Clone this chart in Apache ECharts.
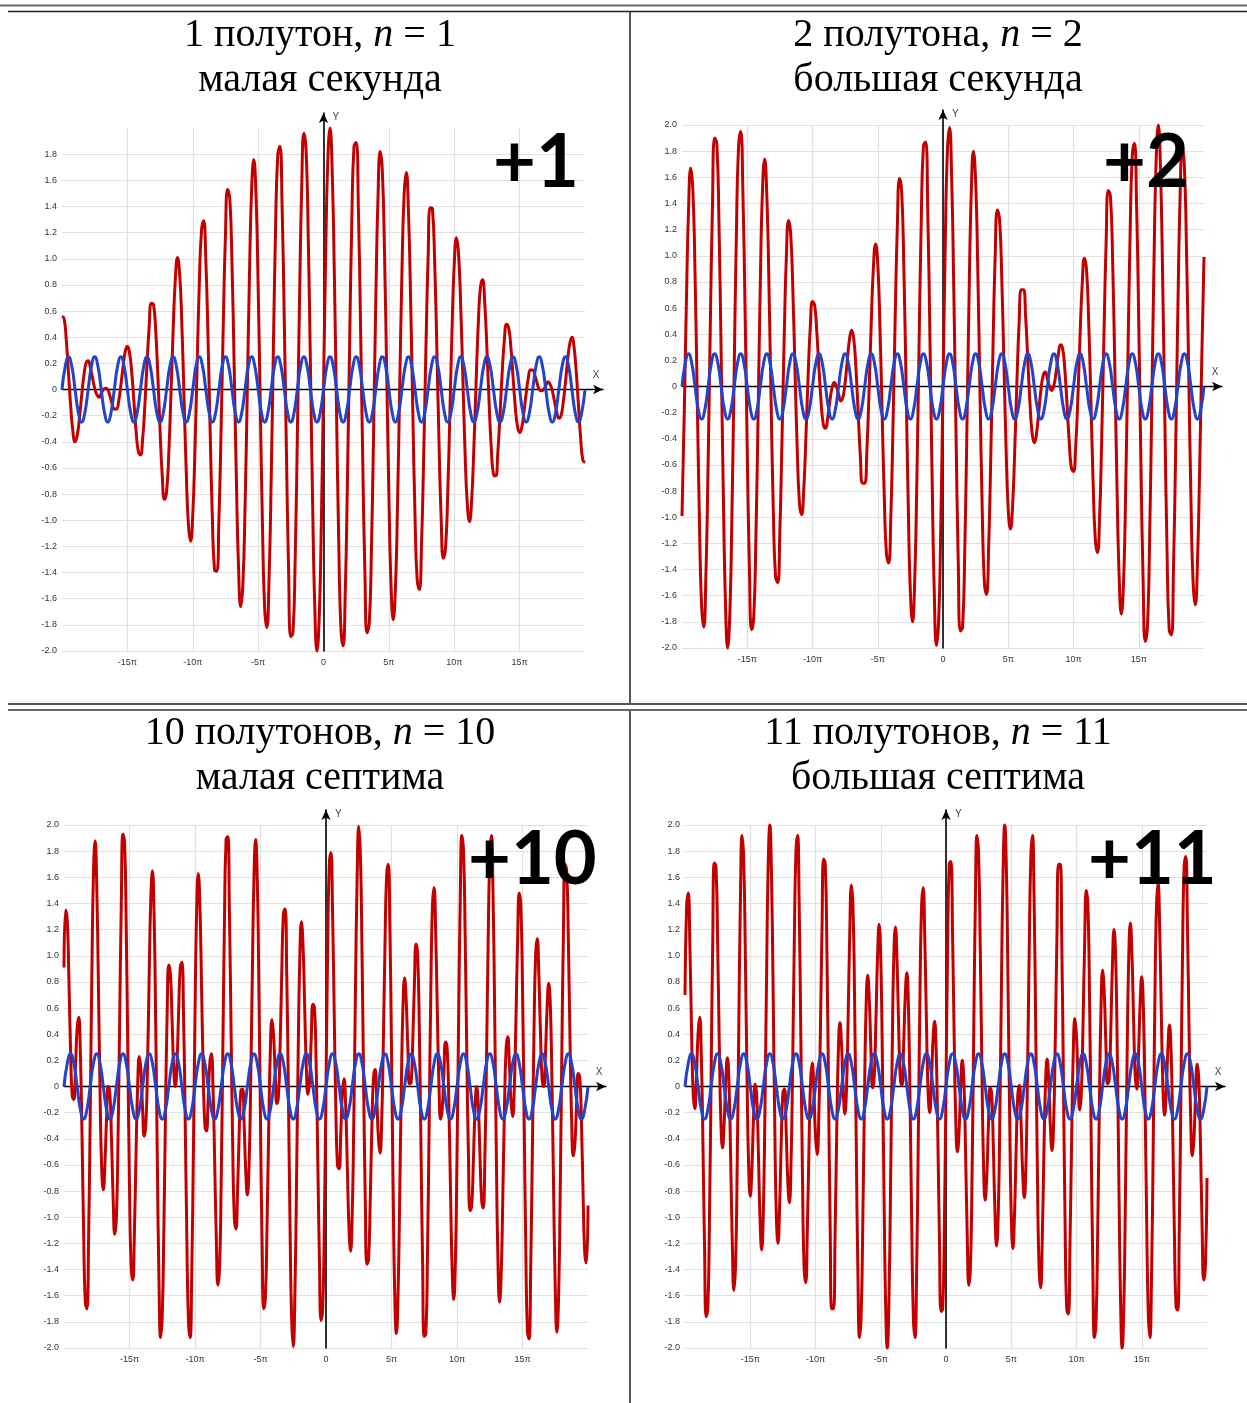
<!DOCTYPE html>
<html><head><meta charset="utf-8">
<script src="https://cdn.jsdelivr.net/npm/echarts@6/dist/echarts.min.js"></script>
<style>html,body{margin:0;padding:0;background:#fff}#c{width:1247px;height:1403px}</style>
</head><body><div id="c"></div>
<script>
// x runs from -20π to 20π (axis units = multiples of π), samples evenly spaced
const redSemitone1 = [
0.56,0.54,0.37,0.12,-0.13,-0.32,-0.40,-0.35,-0.22,-0.05,0.10,0.20,
0.22,0.17,0.09,0.01,-0.04,-0.06,-0.03,0.00,0.01,0.00,-0.05,-0.11,
-0.15,-0.15,-0.09,0.03,0.17,0.29,0.33,0.28,0.13,-0.09,-0.32,-0.47,
-0.50,-0.38,-0.13,0.19,0.48,0.66,0.65,0.45,0.10,-0.31,-0.66,-0.84,
-0.78,-0.49,-0.04,0.45,0.84,1.01,0.88,0.50,-0.06,-0.62,-1.03,-1.16,
-0.96,-0.47,0.18,0.80,1.21,1.29,0.99,0.40,-0.33,-0.98,-1.38,-1.39,
-1.00,-0.31,0.49,1.17,1.53,1.46,0.97,0.18,-0.67,-1.35,-1.66,-1.49,
-0.90,-0.04,0.85,1.52,1.76,1.50,0.80,-0.13,-1.04,-1.67,-1.82,-1.46,
-0.68,0.31,1.22,1.79,1.86,1.40,0.53,-0.49,-1.39,-1.89,-1.86,-1.30,
-0.36,0.68,1.54,1.96,1.83,1.17,0.19,-0.86,-1.66,-2.00,-1.76,-1.03,
0,
1.03,1.76,2.00,1.66,0.86,-0.19,-1.17,-1.83,-1.96,-1.54,-0.68,0.36,
1.30,1.86,1.89,1.39,0.49,-0.53,-1.40,-1.86,-1.79,-1.22,-0.31,0.68,
1.46,1.82,1.67,1.04,0.13,-0.80,-1.50,-1.76,-1.52,-0.85,0.04,0.90,
1.49,1.66,1.35,0.67,-0.18,-0.97,-1.46,-1.53,-1.17,-0.49,0.31,1.00,
1.39,1.38,0.98,0.33,-0.40,-0.99,-1.29,-1.21,-0.80,-0.18,0.47,0.96,
1.16,1.03,0.62,0.06,-0.50,-0.88,-1.01,-0.84,-0.45,0.04,0.49,0.78,
0.84,0.66,0.31,-0.10,-0.45,-0.65,-0.66,-0.48,-0.19,0.13,0.38,0.50,
0.47,0.32,0.09,-0.13,-0.28,-0.33,-0.29,-0.17,-0.03,0.09,0.15,0.15,
0.11,0.05,0.00,-0.01,0.00,0.03,0.06,0.04,-0.01,-0.09,-0.17,-0.22,
-0.20,-0.10,0.05,0.22,0.35,0.40,0.32,0.13,-0.12,-0.37,-0.54,-0.56
];
const redSemitone2 = [
-0.99,-0.23,0.63,1.34,1.67,1.50,0.86,-0.08,-1.01,-1.67,-1.84,-1.44,-0.60,
0.45,1.37,1.90,1.86,1.25,0.25,-0.82,-1.66,-2.00,-1.73,-0.94,0.13,
1.16,1.83,1.95,1.48,0.58,-0.49,-1.39,-1.86,-1.76,-1.14,-0.20,0.78,
1.50,1.74,1.46,0.76,-0.14,-0.96,-1.45,-1.50,-1.10,-0.39,0.38,1.00,
1.27,1.16,0.72,0.10,-0.49,-0.89,-0.98,-0.78,-0.38,0.09,0.46,0.65,
0.62,0.41,0.13,-0.13,-0.29,-0.32,-0.24,-0.11,-0.01,0.03,0.00,-0.06,
-0.11,-0.08,0.03,0.20,0.36,0.43,0.36,0.13,-0.20,-0.53,-0.74,-0.74,
-0.49,-0.04,0.48,0.91,1.09,0.94,0.47,-0.19,-0.84,-1.28,-1.35,-1.00,
-0.31,0.51,1.22,1.59,1.49,0.91,0.04,-0.89,-1.57,-1.80,-1.48,-0.70,
0.32,1.26,1.84,1.87,1.33,0.37,-0.70,-1.58,-1.98,-1.79,-1.05,
0,
1.05,1.79,1.98,1.58,0.70,-0.37,-1.33,-1.87,-1.84,-1.26,-0.32,
0.70,1.48,1.80,1.57,0.89,-0.04,-0.91,-1.49,-1.59,-1.22,-0.51,0.31,
1.00,1.35,1.28,0.84,0.19,-0.47,-0.94,-1.09,-0.91,-0.48,0.04,0.49,
0.74,0.74,0.53,0.20,-0.13,-0.36,-0.43,-0.36,-0.20,-0.03,0.08,0.11,
0.06,0.00,-0.03,0.01,0.11,0.24,0.32,0.29,0.13,-0.13,-0.41,-0.62,
-0.65,-0.46,-0.09,0.38,0.78,0.98,0.89,0.49,-0.10,-0.72,-1.16,-1.27,
-1.00,-0.38,0.39,1.10,1.50,1.45,0.96,0.14,-0.76,-1.46,-1.74,-1.50,
-0.78,0.20,1.14,1.76,1.86,1.39,0.49,-0.58,-1.48,-1.95,-1.83,-1.16,
-0.13,0.94,1.73,2.00,1.66,0.82,-0.25,-1.25,-1.86,-1.90,-1.37,-0.45,
0.60,1.44,1.84,1.67,1.01,0.08,-0.86,-1.50,-1.67,-1.34,-0.63,0.23,
0.99
];
const redSemitone10 = [
0.91,1.35,1.27,0.82,0.28,-0.07,-0.10,0.14,0.44,0.53,0.25,-0.37,-1.12,-1.65,-1.70,-1.18,
-0.23,0.84,1.63,1.88,1.54,0.79,-0.03,-0.62,-0.79,-0.59,-0.24,0.00,-0.05,-0.40,-0.85,-1.13,
-1.00,-0.40,0.51,1.40,1.93,1.87,1.22,0.23,-0.76,-1.38,-1.48,-1.11,-0.51,0.01,0.23,0.12,
-0.17,-0.38,-0.29,0.16,0.83,1.43,1.65,1.32,0.49,-0.57,-1.48,-1.92,-1.75,-1.08,-0.19,0.56,
0.93,0.86,0.51,0.14,0.00,0.18,0.57,0.91,0.95,0.54,-0.24,-1.14,-1.79,-1.92,-1.44,-0.51,
0.54,1.34,1.63,1.38,0.77,0.12,-0.29,-0.34,-0.11,0.17,0.25,-0.01,-0.56,-1.16,-1.52,-1.38,
-0.72,0.28,1.27,1.89,1.91,1.35,0.45,-0.43,-1.00,-1.09,-0.79,-0.35,-0.03,-0.02,-0.29,-0.65,
-0.83,-0.61,0.01,0.85,1.59,1.89,1.60,0.78,-0.28,-1.22,-1.70,-1.61,-1.06,-0.33,0.27,0.51,
0.39,0.09,-0.13,-0.07,0.32,0.88,1.32,1.36,0.88,-0.01,-1.02,-1.77,-1.99,-1.59,-0.74,0.24,
0.98,1.26,1.07,0.60,0.14,-0.06,0.05,0.37,0.63,0.60,0.16,-0.57,-1.34,-1.79,-1.69,-1.03,
0,
1.03,1.69,1.79,1.34,0.57,-0.16,-0.60,-0.63,-0.37,-0.05,0.06,-0.14,-0.60,-1.07,-1.26,-0.98,
-0.24,0.74,1.59,1.99,1.77,1.02,0.01,-0.88,-1.36,-1.32,-0.88,-0.32,0.07,0.13,-0.09,-0.39,
-0.51,-0.27,0.33,1.06,1.61,1.70,1.22,0.28,-0.78,-1.60,-1.89,-1.59,-0.85,-0.01,0.61,0.83,
0.65,0.29,0.02,0.03,0.35,0.79,1.09,1.00,0.43,-0.45,-1.35,-1.91,-1.89,-1.27,-0.28,0.72,
1.38,1.52,1.16,0.56,0.01,-0.25,-0.17,0.11,0.34,0.29,-0.12,-0.77,-1.38,-1.63,-1.34,-0.54,
0.51,1.44,1.92,1.79,1.14,0.24,-0.54,-0.95,-0.91,-0.57,-0.18,0.00,-0.14,-0.51,-0.86,-0.93,
-0.56,0.19,1.08,1.75,1.92,1.48,0.57,-0.49,-1.32,-1.65,-1.43,-0.83,-0.16,0.29,0.38,0.17,
-0.12,-0.23,-0.01,0.51,1.11,1.48,1.38,0.76,-0.23,-1.22,-1.87,-1.93,-1.40,-0.51,0.40,1.00,
1.13,0.85,0.40,0.05,0.00,0.24,0.59,0.79,0.62,0.03,-0.79,-1.54,-1.88,-1.63,-0.84,0.23,
1.18,1.70,1.65,1.12,0.37,-0.25,-0.53,-0.44,-0.14,0.10,0.07,-0.28,-0.82,-1.27,-1.35,-0.91
];
const redSemitone11 = [
0.70,1.38,1.48,1.07,0.44,-0.05,-0.17,0.06,0.40,0.53,0.24,-0.44,-1.24,-1.76,-1.69,-1.01,
0.06,1.10,1.71,1.68,1.11,0.34,-0.27,-0.47,-0.28,0.05,0.22,0.01,-0.55,-1.20,-1.56,-1.36,
-0.60,0.48,1.45,1.92,1.73,1.00,0.09,-0.60,-0.84,-0.63,-0.24,0.02,-0.08,-0.51,-1.01,-1.25,
-0.97,-0.19,0.84,1.69,2.00,1.63,0.75,-0.26,-0.99,-1.20,-0.92,-0.42,-0.05,-0.02,-0.33,-0.72,
-0.89,-0.58,0.17,1.10,1.79,1.92,1.38,0.39,-0.67,-1.38,-1.50,-1.10,-0.47,0.04,0.18,-0.03,
-0.38,-0.52,-0.25,0.42,1.21,1.74,1.70,1.03,-0.03,-1.08,-1.70,-1.70,-1.14,-0.36,0.27,0.49,
0.31,-0.03,-0.21,-0.02,0.52,1.17,1.54,1.37,0.62,-0.45,-1.43,-1.92,-1.75,-1.03,-0.12,0.60,
0.85,0.66,0.27,-0.01,0.07,0.48,0.98,1.24,0.98,0.21,-0.81,-1.67,-2.00,-1.65,-0.78,0.24,
0.99,1.22,0.95,0.45,0.06,0.01,0.30,0.69,0.87,0.59,-0.14,-1.06,-1.77,-1.92,-1.41,-0.42,
0.65,1.37,1.52,1.13,0.50,-0.03,-0.20,0.00,0.35,0.50,0.26,-0.39,-1.18,-1.72,-1.70,-1.06,
0,
1.06,1.70,1.72,1.18,0.39,-0.26,-0.50,-0.35,0.00,0.20,0.03,-0.50,-1.13,-1.52,-1.37,-0.65,
0.42,1.41,1.92,1.77,1.06,0.14,-0.59,-0.87,-0.69,-0.30,-0.01,-0.06,-0.45,-0.95,-1.22,-0.99,
-0.24,0.78,1.65,2.00,1.67,0.81,-0.21,-0.98,-1.24,-0.98,-0.48,-0.07,0.01,-0.27,-0.66,-0.85,
-0.60,0.12,1.03,1.75,1.92,1.43,0.45,-0.62,-1.37,-1.54,-1.17,-0.52,0.02,0.21,0.03,-0.31,
-0.49,-0.27,0.36,1.14,1.70,1.70,1.08,0.03,-1.03,-1.70,-1.74,-1.21,-0.42,0.25,0.52,0.38,
0.03,-0.18,-0.04,0.47,1.10,1.50,1.38,0.67,-0.39,-1.38,-1.92,-1.79,-1.10,-0.17,0.58,0.89,
0.72,0.33,0.02,0.05,0.42,0.92,1.20,0.99,0.26,-0.75,-1.63,-2.00,-1.69,-0.84,0.19,0.97,
1.25,1.01,0.51,0.08,-0.02,0.24,0.63,0.84,0.60,-0.09,-1.00,-1.73,-1.92,-1.45,-0.48,0.60,
1.36,1.56,1.20,0.55,-0.01,-0.22,-0.05,0.28,0.47,0.27,-0.34,-1.11,-1.68,-1.71,-1.10,-0.06,
1.01,1.69,1.76,1.24,0.44,-0.24,-0.53,-0.40,-0.06,0.17,0.05,-0.44,-1.07,-1.48,-1.38,-0.70
];
const blueBaseTone = [
0,0.177,0.25,0.177,0,-0.177,-0.25,-0.177, 0,0.177,0.25,0.177,0,-0.177,-0.25,-0.177,
0,0.177,0.25,0.177,0,-0.177,-0.25,-0.177, 0,0.177,0.25,0.177,0,-0.177,-0.25,-0.177,
0,0.177,0.25,0.177,0,-0.177,-0.25,-0.177, 0,0.177,0.25,0.177,0,-0.177,-0.25,-0.177,
0,0.177,0.25,0.177,0,-0.177,-0.25,-0.177, 0,0.177,0.25,0.177,0,-0.177,-0.25,-0.177,
0,0.177,0.25,0.177,0,-0.177,-0.25,-0.177, 0,0.177,0.25,0.177,0,-0.177,-0.25,-0.177,
0,0.177,0.25,0.177,0,-0.177,-0.25,-0.177, 0,0.177,0.25,0.177,0,-0.177,-0.25,-0.177,
0,0.177,0.25,0.177,0,-0.177,-0.25,-0.177, 0,0.177,0.25,0.177,0,-0.177,-0.25,-0.177,
0,0.177,0.25,0.177,0,-0.177,-0.25,-0.177, 0,0.177,0.25,0.177,0,-0.177,-0.25,-0.177,
0,0.177,0.25,0.177,0,-0.177,-0.25,-0.177, 0,0.177,0.25,0.177,0,-0.177,-0.25,-0.177,
0,0.177,0.25,0.177,0,-0.177,-0.25,-0.177, 0,0.177,0.25,0.177,0,-0.177,-0.25,-0.177,
0
];
const semitoneCounts = [1, 2, 10, 11];
const titleLine1 = ['1 полутон', '2 полутона', '10 полутонов', '11 полутонов'];
const titleLine2 = ['малая секунда', 'большая секунда', 'малая септима', 'большая септима'];
const bigLabels = ['+1', '+2', '+10', '+11'];
const redSeries = [redSemitone1, redSemitone2, redSemitone10, redSemitone11];
const X_MIN = -20, X_MAX = 20, Y_MIN = -2, Y_MAX = 2;

// layout (pixels)
const boxes = [
  {l: 62,  r: 585,  t: 128, b: 651,  cx: 320, ty: 13,  lx: 493,  ly: 126, topLine: false},
  {l: 682, r: 1204, t: 125, b: 648,  cx: 938, ty: 13,  lx: 1103, ly: 126, topLine: true},
  {l: 64,  r: 588,  t: 825, b: 1348, cx: 320, ty: 711, lx: 468,  ly: 823, topLine: true},
  {l: 685, r: 1207, t: 825, b: 1348, cx: 938, ty: 711, lx: 1088, ly: 823, topLine: true}
];
const EXT_X = 18, EXT_Y = 15;

const toPairs = arr => arr.map((y, i) => [X_MIN + i * (X_MAX - X_MIN) / (arr.length - 1), y]);

const grid = [], xAxis = [], yAxis = [], series = [];
const labelFont = {fontFamily: 'Liberation Sans', fontSize: 9, color: '#333'};
const gridLine = {color: '#e0e0e0', width: 1.2};
boxes.forEach((b, i) => {
  const w = b.r - b.l, h = b.b - b.t;
  grid.push({left: b.l, top: b.t, width: w, height: h, containLabel: false});
  grid.push({left: b.l, top: b.t - EXT_Y, width: w + EXT_X, height: h + EXT_Y, containLabel: false});
  const pxX = w / (X_MAX - X_MIN), pxY = h / (Y_MAX - Y_MIN);
  xAxis.push({
    gridIndex: 2 * i, type: 'value', min: X_MIN, max: X_MAX, interval: 5,
    axisLine: {show: false, onZero: false}, axisTick: {show: false},
    axisLabel: Object.assign({margin: 7, showMinLabel: false, showMaxLabel: false,
      formatter: v => v === 0 ? '0' : v + 'π'}, labelFont),
    splitLine: {show: true, showMinLine: false, showMaxLine: false, lineStyle: gridLine}
  });
  yAxis.push({
    gridIndex: 2 * i, type: 'value', min: Y_MIN, max: Y_MAX, interval: 0.2,
    axisLine: {show: false, onZero: false}, axisTick: {show: false},
    axisLabel: Object.assign({margin: 5, showMinLabel: true, showMaxLabel: b.topLine,
      formatter: v => Math.abs(v) < 1e-9 ? '0' : v.toFixed(1)}, labelFont),
    splitLine: {show: true, showMinLine: true, showMaxLine: b.topLine, lineStyle: gridLine}
  });
  xAxis.push({
    gridIndex: 2 * i + 1, type: 'value', min: X_MIN, max: X_MAX + EXT_X / pxX,
    axisLine: {show: true, onZero: true, symbol: ['none', 'arrow'], symbolSize: [7, 10],
      lineStyle: {color: '#000', width: 1.3}},
    axisTick: {show: false}, axisLabel: {show: false}, splitLine: {show: false},
    name: 'X', nameLocation: 'end', nameGap: -7,
    nameTextStyle: {fontFamily: 'Liberation Sans', fontSize: 10, color: '#444',
      align: 'center', verticalAlign: 'bottom', padding: [0, 0, 9, 0]}
  });
  yAxis.push({
    gridIndex: 2 * i + 1, type: 'value', min: Y_MIN, max: Y_MAX + EXT_Y / pxY,
    axisLine: {show: true, onZero: true, symbol: ['none', 'arrow'], symbolSize: [7, 10],
      lineStyle: {color: '#000', width: 1.6}},
    axisTick: {show: false}, axisLabel: {show: false}, splitLine: {show: false},
    name: 'Y', nameLocation: 'end', nameGap: -4,
    nameTextStyle: {fontFamily: 'Liberation Sans', fontSize: 10, color: '#444',
      align: 'left', verticalAlign: 'middle', padding: [0, 0, 0, 9]}
  });
  series.push({
    type: 'line', xAxisIndex: 2 * i, yAxisIndex: 2 * i, data: toPairs(redSeries[i]),
    smooth: true, showSymbol: false, clip: false, silent: true,
    lineStyle: {color: '#c20000', width: 3}, z: 3
  });
  series.push({
    type: 'line', xAxisIndex: 2 * i, yAxisIndex: 2 * i, data: toPairs(blueBaseTone),
    smooth: true, showSymbol: false, clip: false, silent: true,
    lineStyle: {color: '#2344c8', width: 3}, z: 4
  });
});

const titles = boxes.map((b, i) => ({
  text: titleLine1[i] + ', {i|n} = ' + semitoneCounts[i] + '\n' + titleLine2[i],
  left: b.cx, top: b.ty, textAlign: 'center', padding: 0,
  textStyle: {fontFamily: 'Liberation Serif', fontSize: 40, fontWeight: 'normal', color: '#000', lineHeight: 45,
    rich: {i: {fontFamily: 'Liberation Serif', fontSize: 40, fontStyle: 'italic', color: '#000', lineHeight: 45}}}
})).concat(boxes.map((b, i) => ({
  text: bigLabels[i], left: b.lx, top: b.ly, padding: 0, z: 10,
  textStyle: {fontFamily: 'Lato', fontSize: 74, fontWeight: 'bold', color: '#000', lineHeight: 74}
})));

const ln = (x1, y1, x2, y2, c, w) => ({type: 'line', silent: true, z: 20,
  shape: {x1, y1, x2, y2}, style: {stroke: c, lineWidth: w}});

const chart = echarts.init(document.getElementById('c'), null, {renderer: 'canvas'});
chart.setOption({
  animation: false,
  backgroundColor: '#fff',
  title: titles,
  grid, xAxis, yAxis, series,
  graphic: [
    ln(0, 5.5, 1247, 5.5, '#6a6a6a', 2),
    ln(8, 11.5, 1247, 11.5, '#222', 1.3),
    ln(8, 704, 1247, 704, '#555', 2),
    ln(8, 710, 1247, 710, '#333', 1.3),
    ln(630, 12, 630, 703, '#555', 2),
    ln(630, 711, 630, 1403, '#555', 2)
  ]
});
</script></body></html>
